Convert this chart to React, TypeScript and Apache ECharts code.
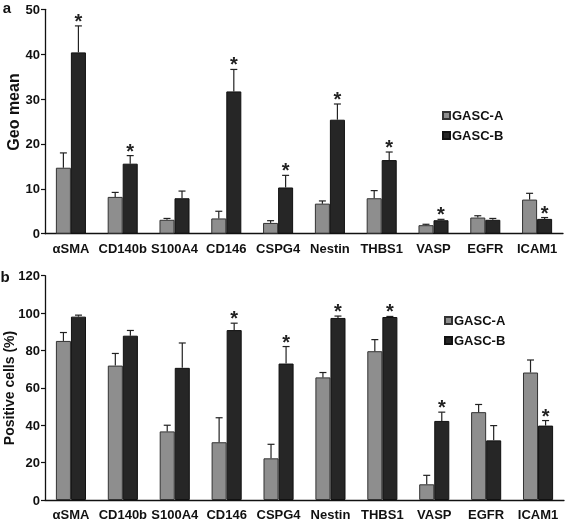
import React, { useEffect, useRef } from "react";
import * as echarts from "echarts";

const categories = ["αSMA", "CD140b", "S100A4", "CD146", "CSPG4", "Nestin", "THBS1", "VASP", "EGFR", "ICAM1"];
const seriesNames = ["GASC-A", "GASC-B"];

// Panel a: Geo mean
const geoA = [14.7, 8.2, 3.1, 3.4, 2.4, 6.7, 7.9, 1.9, 3.6, 7.6];
const geoAErrTop = [18.0, 9.2, 3.4, 5.0, 2.9, 7.3, 9.6, 2.1, 4.0, 9.0];
const geoB = [40.4, 15.6, 7.9, 31.7, 10.3, 25.4, 16.4, 3.0, 3.1, 3.3];
const geoBErrTop = [46.3, 17.4, 9.5, 36.6, 13.0, 28.9, 18.2, 3.2, 3.4, 3.6];
const geoStarB = [1, 1, 0, 1, 1, 1, 1, 1, 0, 1];

// Panel b: Positive cells (%)
const posA = [85.1, 71.9, 36.7, 30.9, 22.3, 65.6, 79.6, 8.4, 47.0, 68.2];
const posAErrTop = [89.6, 78.4, 40.0, 44.0, 29.8, 68.2, 85.8, 13.2, 51.1, 74.9];
const posB = [98.1, 87.9, 70.7, 90.9, 73.0, 97.4, 97.9, 42.3, 31.9, 39.8];
const posBErrTop = [98.9, 90.7, 84.0, 94.6, 82.1, 98.4, 98.2, 47.0, 39.8, 42.5];
const posStarB = [0, 0, 0, 1, 1, 1, 1, 1, 0, 1];

const FONT = "'Liberation Sans', Arial, sans-serif";
const GRAY = "#8e8e8e";
const DARK = "#262626";
const BAR_FRAC = 0.29;

function errData(vals: number[], tops: number[], stars: number[]) {
  return vals.map((v, i) => [i, v, tops[i], stars[i]]);
}

function makeErrRender(sign: number) {
  return (params: any, api: any) => {
    const idx = api.value(0);
    const v = api.value(1);
    const top = api.value(2);
    const star = api.value(3);
    const base = api.coord([idx, v]);
    const tp = api.coord([idx, top]);
    const band = api.size([1, 0])[0];
    const x = base[0] + sign * band * BAR_FRAC / 2;
    const cap = 3.5;
    const children: any[] = [
      { type: "line", shape: { x1: x, y1: base[1], x2: x, y2: tp[1] }, style: { stroke: "#222", lineWidth: 1.2 } },
      { type: "line", shape: { x1: x - cap, y1: tp[1], x2: x + cap, y2: tp[1] }, style: { stroke: "#222", lineWidth: 1.2 } },
    ];
    if (star) {
      children.push({
        type: "text",
        style: { text: "*", x: x, y: tp[1] - 5, align: "center", verticalAlign: "middle", font: `bold 20px ${FONT}`, fill: "#222" },
      });
    }
    return { type: "group", children };
  };
}

export default function App() {
  const ref = useRef<HTMLDivElement>(null);
  useEffect(() => {
    const chart = echarts.init(ref.current!, undefined, { renderer: "svg" });
    const axisLabelStyle = { color: "#111", fontWeight: "bold" as const, fontFamily: FONT, fontSize: 13 };
    const xAxisBase = {
      type: "category" as const,
      data: categories,
      axisLine: { lineStyle: { color: "#111", width: 1.3 } },
      axisTick: { length: 4, lineStyle: { color: "#111", width: 1.2 } },
      axisLabel: { ...axisLabelStyle, margin: 8, interval: 0 },
    };
    const yAxisBase = {
      type: "value" as const,
      axisLine: { show: true, lineStyle: { color: "#111", width: 1.3 } },
      axisTick: { show: true, length: 4, lineStyle: { color: "#111", width: 1.2 } },
      axisLabel: { ...axisLabelStyle, margin: 5 },
      splitLine: { show: false },
    };
    const barStyleA = { color: GRAY, borderColor: "#333", borderWidth: 1 };
    const barStyleB = { color: DARK, borderColor: "#111", borderWidth: 1 };
    const legendBase = {
      orient: "vertical" as const,
      itemWidth: 7,
      itemHeight: 7,
      itemGap: 7,
      icon: "rect",
      selectedMode: false,
      data: seriesNames,
      textStyle: { color: "#111", fontWeight: "bold" as const, fontFamily: FONT, fontSize: 13, padding: [0, 0, 0, -3] },
    };
    chart.setOption({
      animation: false,
      textStyle: { fontFamily: FONT },
      grid: [
        { left: 45, top: 9.3, width: 518, height: 224.4 },
        { left: 45, top: 275.7, width: 519, height: 227.6 },
      ],
      xAxis: [
        { ...xAxisBase, gridIndex: 0 },
        { ...xAxisBase, gridIndex: 1 },
      ],
      yAxis: [
        { ...yAxisBase, gridIndex: 0, min: 0, max: 50, interval: 10 },
        { ...yAxisBase, gridIndex: 1, min: 0, max: 120, interval: 20 },
      ],
      legend: [
        { ...legendBase, left: 437, top: 104 },
        { ...legendBase, left: 439, top: 309 },
      ],
      series: [
        { type: "bar", name: seriesNames[0], xAxisIndex: 0, yAxisIndex: 0, data: geoA, barWidth: "29%", barGap: "0%", itemStyle: barStyleA },
        { type: "bar", name: seriesNames[1], xAxisIndex: 0, yAxisIndex: 0, data: geoB, barWidth: "29%", barGap: "0%", itemStyle: barStyleB },
        { type: "bar", name: seriesNames[0], xAxisIndex: 1, yAxisIndex: 1, data: posA, barWidth: "29%", barGap: "0%", itemStyle: barStyleA },
        { type: "bar", name: seriesNames[1], xAxisIndex: 1, yAxisIndex: 1, data: posB, barWidth: "29%", barGap: "0%", itemStyle: barStyleB },
        { type: "custom", xAxisIndex: 0, yAxisIndex: 0, data: errData(geoA, geoAErrTop, geoA.map(() => 0)), renderItem: makeErrRender(-1), z: 5 },
        { type: "custom", xAxisIndex: 0, yAxisIndex: 0, data: errData(geoB, geoBErrTop, geoStarB), renderItem: makeErrRender(1), z: 5 },
        { type: "custom", xAxisIndex: 1, yAxisIndex: 1, data: errData(posA, posAErrTop, posA.map(() => 0)), renderItem: makeErrRender(-1), z: 5 },
        { type: "custom", xAxisIndex: 1, yAxisIndex: 1, data: errData(posB, posBErrTop, posStarB), renderItem: makeErrRender(1), z: 5 },
      ],
      graphic: [
        { type: "text", x: 7, y: 7, style: { text: "a", font: `bold 15px ${FONT}`, fill: "#111", align: "center", verticalAlign: "middle" } },
        { type: "text", x: 5, y: 276, style: { text: "b", font: `bold 15px ${FONT}`, fill: "#111", align: "center", verticalAlign: "middle" } },
        { type: "text", x: 13, y: 112, rotation: Math.PI / 2, style: { text: "Geo mean", font: `bold 16px ${FONT}`, fill: "#111", align: "center", verticalAlign: "middle" } },
        { type: "text", x: 9, y: 388, rotation: Math.PI / 2, style: { text: "Positive cells (%)", font: `bold 14px ${FONT}`, fill: "#111", align: "center", verticalAlign: "middle" } },
      ],
    });
    return () => chart.dispose();
  }, []);
  return <div ref={ref} style={{ position: "fixed", left: 0, top: 0, width: 567, height: 521 }} />;
}
